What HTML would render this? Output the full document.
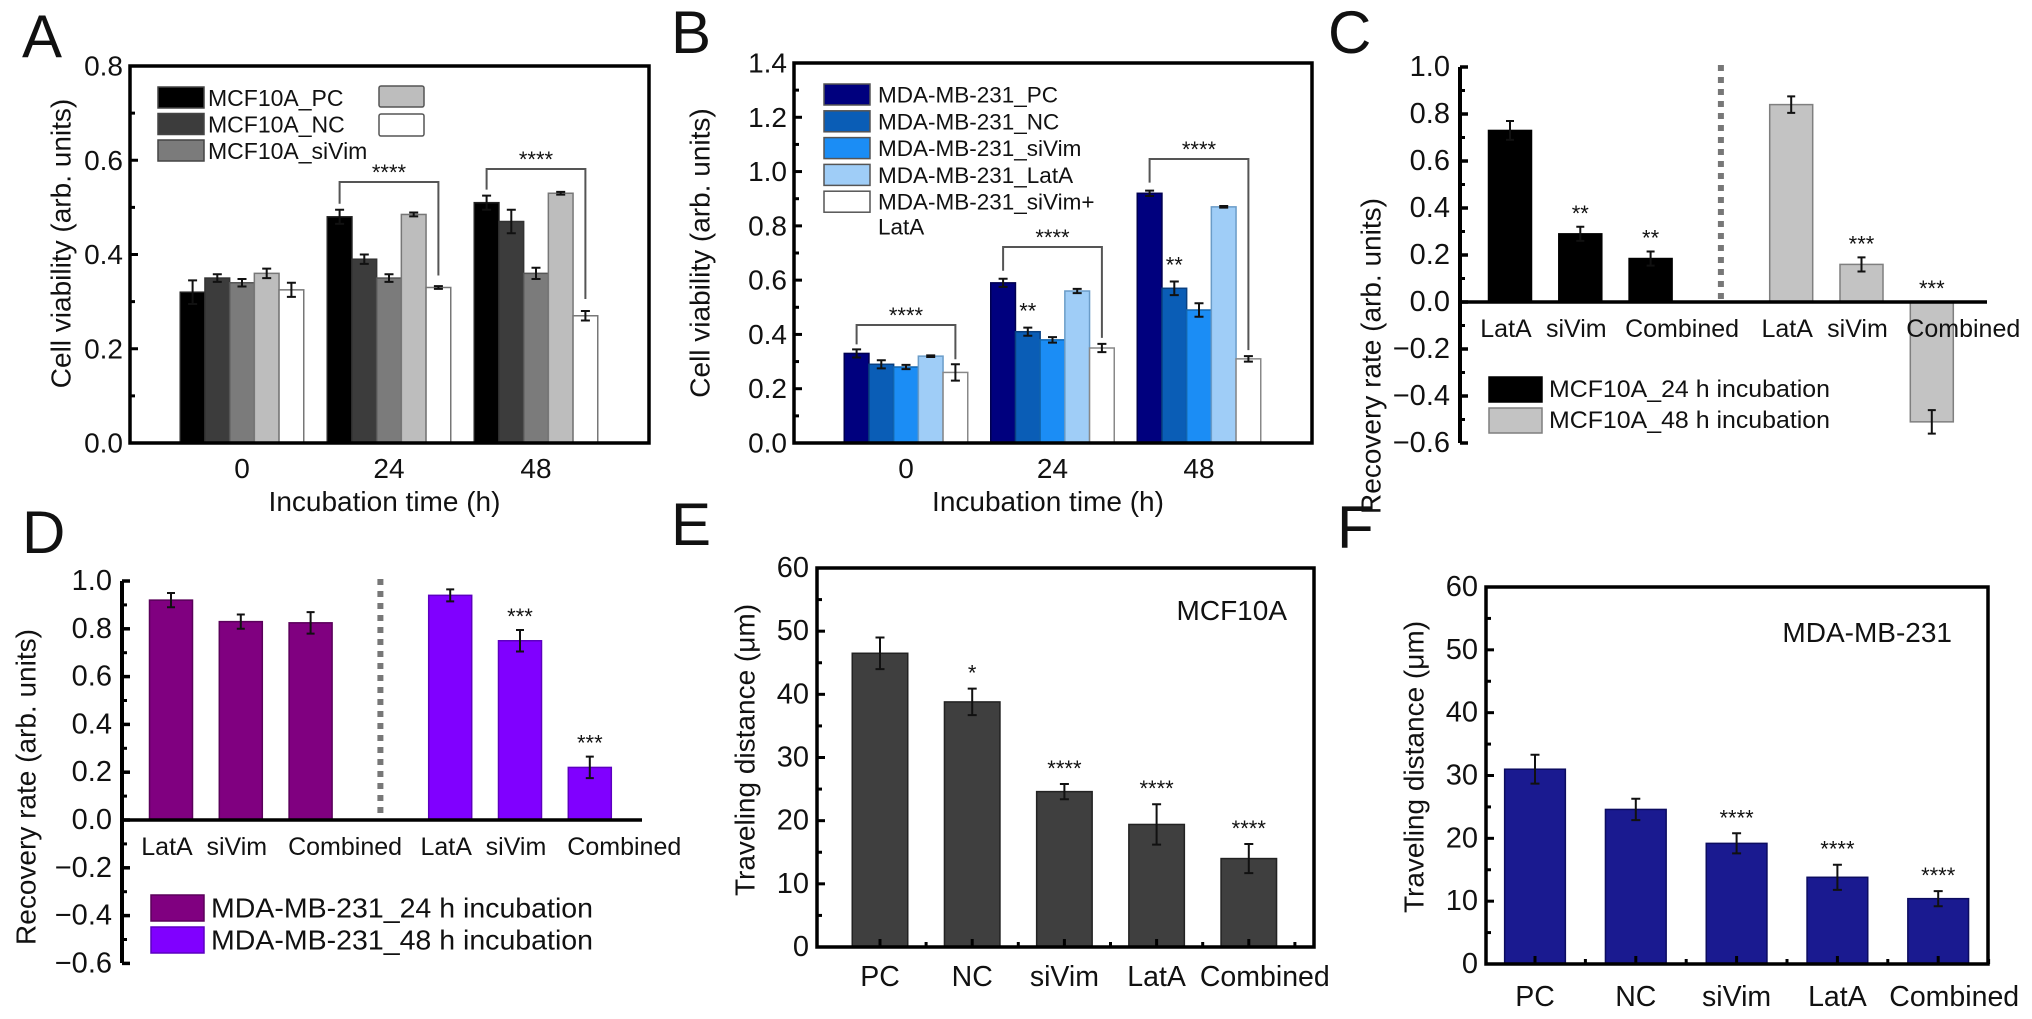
<!DOCTYPE html>
<html><head><meta charset="utf-8"><title>Cell viability and migration figure</title>
<style>
html,body{margin:0;padding:0;background:#fff;}
svg{display:block;font-family:"Liberation Sans",Arial,sans-serif;}
</style></head>
<body>
<svg id="fig" width="2032" height="1019" viewBox="0 0 2032 1019" xmlns="http://www.w3.org/2000/svg"></svg>
<script>
// ---------- Panel A data ----------
const aCats = ['0', '24', '48'];
const aPC = [0.32, 0.48, 0.51];
const aNC = [0.35, 0.39, 0.47];
const aSi = [0.34, 0.35, 0.36];
const aLat = [0.36, 0.485, 0.53];
const aComb = [0.325, 0.33, 0.27];
const aPCe = [0.025, 0.015, 0.015];
const aNCe = [0.008, 0.01, 0.025];
const aSie = [0.008, 0.008, 0.012];
const aLate = [0.01, 0.004, 0.003];
const aCombe = [0.015, 0.003, 0.01];
const aTicks = [0, 0.2, 0.4, 0.6, 0.8];
const aLegend = ['MCF10A_PC', 'MCF10A_NC', 'MCF10A_siVim'];
// ---------- Panel B data ----------
const bCats = ['0', '24', '48'];
const bPC = [0.33, 0.59, 0.92];
const bNC = [0.29, 0.41, 0.57];
const bSi = [0.28, 0.38, 0.49];
const bLat = [0.32, 0.56, 0.87];
const bComb = [0.26, 0.35, 0.31];
const bPCe = [0.015, 0.015, 0.01];
const bNCe = [0.015, 0.015, 0.025];
const bSie = [0.008, 0.01, 0.025];
const bLate = [0.003, 0.008, 0.003];
const bCombe = [0.03, 0.015, 0.01];
const bTicks = [0, 0.2, 0.4, 0.6, 0.8, 1.0, 1.2, 1.4];
const bLegend = ['MDA-MB-231_PC', 'MDA-MB-231_NC', 'MDA-MB-231_siVim', 'MDA-MB-231_LatA', 'MDA-MB-231_siVim+'];
// ---------- Panel C data ----------
const cCats = ['LatA', 'siVim', 'Combined'];
const c24 = [0.73, 0.29, 0.185];
const c48 = [0.84, 0.16, -0.51];
const c24e = [0.04, 0.03, 0.03];
const c48e = [0.035, 0.03, 0.05];
const c24Stars = ['', '**', '**'];
const c48Stars = ['', '***', '***'];
const cTicks = [-0.6, -0.4, -0.2, 0, 0.2, 0.4, 0.6, 0.8, 1.0];
// ---------- Panel D data ----------
const dCats = ['LatA', 'siVim', 'Combined'];
const d24 = [0.92, 0.83, 0.825];
const d48 = [0.94, 0.75, 0.22];
const d24e = [0.03, 0.03, 0.045];
const d48e = [0.025, 0.045, 0.045];
const d24Stars = ['', '', ''];
const d48Stars = ['', '***', '***'];
const dTicks = [-0.6, -0.4, -0.2, 0, 0.2, 0.4, 0.6, 0.8, 1.0];
// ---------- Panel E data ----------
const eCats = ['PC', 'NC', 'siVim', 'LatA', 'Combined'];
const eVals = [46.5, 38.8, 24.6, 19.4, 14.0];
const eErrs = [2.5, 2.1, 1.2, 3.2, 2.3];
const eStars = ['', '*', '****', '****', '****'];
const eTicks = [0, 10, 20, 30, 40, 50, 60];
// ---------- Panel F data ----------
const fCats = ['PC', 'NC', 'siVim', 'LatA', 'Combined'];
const fVals = [31.0, 24.6, 19.2, 13.8, 10.4];
const fErrs = [2.3, 1.7, 1.6, 2.0, 1.2];
const fStars = ['', '', '****', '****', '****'];
const fTicks = [0, 10, 20, 30, 40, 50, 60];

const NS = 'http://www.w3.org/2000/svg';
const svg = document.getElementById('fig');
function el(tag, attrs, parent) {
  const e = document.createElementNS(NS, tag);
  for (const k in attrs) e.setAttribute(k, attrs[k]);
  (parent || svg).appendChild(e);
  return e;
}
function nm(e, n) {
  
  
  return e;
}
function txt(x, y, s, size, anchor, parent, extra) {
  const a = Object.assign({x: x, y: y, 'font-size': size, 'text-anchor': anchor || 'middle', fill: '#111'}, extra || {});
  const t = el('text', a, parent);
  t.textContent = s;
  return t;
}
function lin(v0, p0, v1, p1) { return v => p0 + (v - v0) * (p1 - p0) / (v1 - v0); }
function grp(name) { const g = el('g', {}); nm(g, name); return g; }
function errBar(g, x, y1, y2, cap) {
  const l = el('path', {d: `M${x},${y1}V${y2}M${x - cap / 2},${y1}h${cap}M${x - cap / 2},${y2}h${cap}`, stroke: '#111', 'stroke-width': 2, fill: 'none'}, g);
  nm(l, 'error-bar');
}
function fmt(v) { const s = Math.abs(v).toFixed(1); return v < 0 ? '\u2212' + s : s; }
function yTitle(x, y, s, size, g) {
  const t = txt(x, y, s, size, 'middle', g, {transform: `rotate(-90 ${x} ${y})`, 'dominant-baseline': 'central'});
  nm(t, 'y-axis-title');
}
function letter(x, y, s) { const t = txt(x, y, s, 60, 'start', svg); nm(t, 'panel-label-' + s.toLowerCase()); }

// ===== Grouped bar panel helper =====
function groupedPanel(o) {
  const g = grp(o.name);
  const y = lin(0, o.bottom, o.ymax, o.top);
  const gx = i => o.c0 + i * o.step;
  const n = o.series.length;
  // bars
  o.series.forEach((ser, s) => {
    ser.forEach((v, i) => {
      const x = gx(i) + (s - (n - 1) / 2) * o.bw - o.bw / 2;
      const r = el('rect', {x: x, y: y(v), width: o.bw, height: y(0) - y(v), fill: o.colors[s], stroke: o.strokes[s], 'stroke-width': 1.5}, g);
      nm(r, 'bar-' + o.keys[s] + '-' + o.cats[i] + 'h');
      errBar(g, x + o.bw / 2, y(v + o.errs[s][i]), y(v - o.errs[s][i]), 9);
    });
  });
  // box
  const b = el('rect', {x: o.left, y: o.top, width: o.right - o.left, height: o.bottom - o.top, fill: 'none', stroke: '#000', 'stroke-width': 3.5}, g);
  nm(b, 'plot-frame');
  // y ticks
  o.ticks.forEach(v => {
    const t = txt(o.left - 7, y(v), v.toFixed(1), 28, 'end', g, {'dominant-baseline': 'central'});
    nm(t, 'y-tick-label');
    const tk = el('line', {x1: o.left, x2: o.left + 8, y1: y(v), y2: y(v), stroke: '#000', 'stroke-width': 3}, g);
    nm(tk, 'y-tick');
    if (v < o.ymax - 0.01) {
      const m = el('line', {x1: o.left, x2: o.left + 5, y1: y(v + 0.1), y2: y(v + 0.1), stroke: '#000', 'stroke-width': 3}, g);
      nm(m, 'y-minor-tick');
    }
  });
  o.cats.forEach((c, i) => {
    const t = txt(gx(i), o.bottom + 35, c, 28, 'middle', g);
    nm(t, 'x-tick-label');
  });
  const xt = txt((o.left + o.right) / 2 - 5, o.bottom + 68, 'Incubation time (h)', 28, 'middle', g);
  nm(xt, 'x-axis-title');
  yTitle(o.ytx, (o.top + o.bottom) / 2 + o.ytdy, 'Cell viability (arb. units)', 28, g);
  return {g: g, y: y, gx: gx};
}
function bracket(g, x1, y1, yh, x2, y2, stars, sy) {
  const p = el('path', {d: `M${x1},${y1}V${yh}H${x2}V${y2}`, stroke: '#555', 'stroke-width': 2, fill: 'none'}, g);
  nm(p, 'significance-bracket');
  const t = txt((x1 + x2) / 2, sy, stars, 22, 'middle', g);
  nm(t, 'significance-stars');
}

// ===== Panel A =====
letter(22, 57, 'A');
const A = groupedPanel({name: 'panel-a', left: 130, right: 649, top: 66, bottom: 443, ymax: 0.8, c0: 242, step: 147, bw: 24.7,
  cats: aCats, series: [aPC, aNC, aSi, aLat, aComb], errs: [aPCe, aNCe, aSie, aLate, aCombe],
  colors: ['#000', '#3c3c3c', '#7b7b7b', '#bdbdbd', '#fff'], strokes: ['#222', '#333', '#555', '#777', '#777'],
  keys: ['pc', 'nc', 'sivim', 'lata', 'combined'], ticks: aTicks, ytx: 61, ytdy: -11});
(function () {
  const g = A.g;
  const cols = ['#000', '#3c3c3c', '#7b7b7b'];
  aLegend.forEach((s, i) => {
    const r = el('rect', {x: 158, y: 87 + i * 26.5, width: 46, height: 21, fill: cols[i], stroke: '#444', 'stroke-width': 1.5}, g);
    nm(r, 'legend-swatch');
    const t = txt(208, 98 + i * 26.5, s, 23, 'start', g, {'dominant-baseline': 'central'});
    nm(t, 'legend-entry');
  });
  const r1 = el('rect', {x: 379, y: 86, width: 45, height: 21, fill: '#bdbdbd', stroke: '#555', 'stroke-width': 1.5, rx: 2}, g);
  nm(r1, 'legend-swatch-lata');
  const r2 = el('rect', {x: 379, y: 114, width: 45, height: 22, fill: '#fff', stroke: '#555', 'stroke-width': 1.5, rx: 2}, g);
  nm(r2, 'legend-swatch-combined');
  const bw = 24.7;
  const xs = (gi, s) => A.gx(gi) + (s - 2) * bw;
  bracket(g, xs(1, 0), A.y(aPC[1] + aPCe[1]) - 6, 182, xs(1, 4), A.y(aComb[1]) - 12, '****', 180);
  bracket(g, xs(2, 0), A.y(aPC[2] + aPCe[2]) - 6, 169, xs(2, 4), A.y(aComb[2] + aCombe[2]) - 12, '****', 167);
})();

// ===== Panel B =====
letter(671, 53, 'B');
const B = groupedPanel({name: 'panel-b', left: 794, right: 1312, top: 63, bottom: 443, ymax: 1.4, c0: 906, step: 146.5, bw: 24.7,
  cats: bCats, series: [bPC, bNC, bSi, bLat, bComb], errs: [bPCe, bNCe, bSie, bLate, bCombe],
  colors: ['#00007e', '#0a5db6', '#1b8df5', '#9fcdf7', '#fff'], strokes: ['#000050', '#083f80', '#1266b0', '#6a9cc8', '#888'],
  keys: ['pc', 'nc', 'sivim', 'lata', 'combined'], ticks: bTicks, ytx: 700, ytdy: 0});
(function () {
  const g = B.g;
  const cols = ['#00007e', '#0a5db6', '#1b8df5', '#9fcdf7', '#fff'];
  bLegend.forEach((s, i) => {
    const r = el('rect', {x: 824, y: 84 + i * 26.8, width: 46, height: 21, fill: cols[i], stroke: '#555', 'stroke-width': 1.5}, g);
    nm(r, 'legend-swatch');
    const t = txt(878, 95 + i * 26.8, s, 22.5, 'start', g, {'dominant-baseline': 'central'});
    nm(t, 'legend-entry');
  });
  const t2 = txt(878, 227, 'LatA', 22.5, 'start', g, {'dominant-baseline': 'central'});
  nm(t2, 'legend-entry-continued');
  const bw = 24.7;
  const xs = (gi, s) => B.gx(gi) + (s - 2) * bw;
  bracket(g, xs(0, 0) - 0, B.y(bPC[0] + bPCe[0]) - 5, 325, xs(0, 4) - 0, B.y(bComb[0] + bCombe[0]) - 5, '****', 323);
  bracket(g, xs(1, 0), B.y(bPC[1] + bPCe[1]) - 8, 247, xs(1, 4), B.y(bComb[1] + bCombe[1]) - 6, '****', 245);
  bracket(g, xs(2, 0), B.y(bPC[2] + bPCe[2]) - 8, 159, xs(2, 4), B.y(bComb[2] + bCombe[2]) - 6, '****', 157);
  const s1 = txt(xs(1, 1), B.y(bNC[1] + bNCe[1]) - 9, '**', 22, 'middle', g);
  nm(s1, 'significance-stars');
  const s2 = txt(xs(2, 1), B.y(bNC[2] + bNCe[2]) - 9, '**', 22, 'middle', g);
  nm(s2, 'significance-stars');
})();

// ===== Recovery rate panel helper (C, D) =====
function recoveryPanel(o) {
  const g = grp(o.name);
  const y = lin(0, o.zero, 1.0, o.top);
  const sx = k => o.x0 + k * o.slot;
  // bars
  [[o.s24, o.e24, o.st24, 0, o.c24, o.k24], [o.s48, o.e48, o.st48, 4, o.c48, o.k48]].forEach(([vals, errs, stars, off, col, key]) => {
    vals.forEach((v, i) => {
      const cx = sx(off + i);
      const top = Math.min(y(v), y(0)), h = Math.abs(y(v) - y(0));
      const r = el('rect', {x: cx - o.bw / 2, y: top, width: o.bw, height: h, fill: col[0], stroke: col[1], 'stroke-width': 1.5}, g);
      nm(r, 'bar-' + key + '-' + o.cats[i].toLowerCase());
      errBar(g, cx, y(v + errs[i]), y(v - errs[i]), 8);
      if (stars[i]) {
        const sy = v >= 0 ? y(v + errs[i]) - 6 : y(0) - 6;
        const t = txt(cx, sy, stars[i], 22, 'middle', g);
        nm(t, 'significance-stars');
      }
      const lab = o.cats[i] === 'Combined'
        ? txt(cx - o.bw / 2 - 4 + o.combDx, o.zero + 27, o.cats[i], o.lf, 'start', g, {'dominant-baseline': 'central'})
        : txt(cx - 4, o.zero + 27, o.cats[i], o.lf, 'middle', g, {'dominant-baseline': 'central'});
      nm(lab, 'x-category-label');
    });
  });
  // dotted divider
  const d = el('line', {x1: sx(3), x2: sx(3), y1: o.top - 2, y2: o.zero, stroke: '#777', 'stroke-width': 6, 'stroke-dasharray': '6 6'}, g);
  nm(d, 'divider-dotted-line');
  // axes
  const ya = el('line', {x1: o.ax, x2: o.ax, y1: o.top, y2: o.bottom, stroke: '#000', 'stroke-width': 4}, g);
  nm(ya, 'y-axis-line');
  const za = el('line', {x1: o.ax, x2: o.axEnd, y1: o.zero, y2: o.zero, stroke: '#000', 'stroke-width': 3.5}, g);
  nm(za, 'zero-line');
  o.ticks.forEach(v => {
    const t = txt(o.ax - 10, y(v), fmt(v), 29, 'end', g, {'dominant-baseline': 'central'});
    nm(t, 'y-tick-label');
    const tk = el('line', {x1: o.ax, x2: o.ax + 8, y1: y(v), y2: y(v), stroke: '#000', 'stroke-width': 3.5}, g);
    nm(tk, 'y-tick');
    if (v < 0.95) {
      const m = el('line', {x1: o.ax, x2: o.ax + 5, y1: y(v + 0.1), y2: y(v + 0.1), stroke: '#000', 'stroke-width': 3}, g);
      nm(m, 'y-minor-tick');
    }
  });
  // legend
  [[o.c24, o.l24], [o.c48, o.l48]].forEach(([col, s], i) => {
    const r = el('rect', {x: o.lx, y: o.ly + i * o.lstep, width: 53, height: o.lh, fill: col[0], stroke: col[1], 'stroke-width': 1.5}, g);
    nm(r, 'legend-swatch');
    const t = txt(o.lx + 60, o.ly + i * o.lstep + o.lh / 2, s, o.lfs, 'start', g, {'dominant-baseline': 'central', textLength: o.ltl, lengthAdjust: 'spacingAndGlyphs'});
    nm(t, 'legend-entry');
  });
  yTitle(o.ytx, o.yty, 'Recovery rate (arb. units)', 28, g);
}
letter(1328, 53, 'C');
recoveryPanel({name: 'panel-c', top: 67, zero: 302, bottom: 443, x0: 1510, slot: 70.3, bw: 43, ax: 1460, axEnd: 1987,
  cats: cCats, s24: c24, s48: c48, e24: c24e, e48: c48e, st24: c24Stars, st48: c48Stars,
  c24: ['#000', '#000'], c48: ['#c3c3c3', '#7f7f7f'], k24: '24h', k48: '48h', ticks: cTicks, lf: 25, combDx: 0,
  lx: 1489, ly: 377, lstep: 31, lh: 25, lfs: 24, ltl: 281,
  l24: 'MCF10A_24 h incubation', l48: 'MCF10A_48 h incubation', ytx: 1371, yty: 356});
letter(22, 553, 'D');
recoveryPanel({name: 'panel-d', top: 581, zero: 820, bottom: 963, x0: 171, slot: 69.8, bw: 43, ax: 122, axEnd: 642,
  cats: dCats, s24: d24, s48: d48, e24: d24e, e48: d48e, st24: d24Stars, st48: d48Stars,
  c24: ['#800080', '#5a005a'], c48: ['#8000ff', '#5c00c0'], k24: '24h', k48: '48h', ticks: dTicks, lf: 25, combDx: 3,
  lx: 151, ly: 895, lstep: 32, lh: 26, lfs: 28, ltl: 382,
  l24: 'MDA-MB-231_24 h incubation', l48: 'MDA-MB-231_48 h incubation', ytx: 26, yty: 787});

// ===== Distance panel helper (E, F) =====
function distPanel(o) {
  const g = grp(o.name);
  const y = lin(0, o.bottom, 60, o.top);
  const bx = i => o.x0 + i * o.step;
  o.vals.forEach((v, i) => {
    const r = el('rect', {x: bx(i) - o.bw / 2, y: y(v), width: o.bw, height: y(0) - y(v), fill: o.color, stroke: o.stroke, 'stroke-width': 1.5}, g);
    nm(r, 'bar-' + o.cats[i].toLowerCase());
    errBar(g, bx(i), y(v + o.errs[i]), y(v - o.errs[i]), 9);
    if (o.stars[i]) {
      const t = txt(bx(i), y(v + o.errs[i]) - 8, o.stars[i], 22, 'middle', g);
      nm(t, 'significance-stars');
    }
    const lab = txt(bx(i) + (o.cats[i] === 'Combined' ? 16 : 0), o.bottom + o.labDy, o.cats[i], 28.5, 'middle', g, {'dominant-baseline': 'central'});
    nm(lab, 'x-tick-label');
    const tk = el('line', {x1: bx(i), x2: bx(i), y1: o.bottom, y2: o.bottom - 8, stroke: '#000', 'stroke-width': 3}, g);
    nm(tk, 'x-tick');
    const mt = el('line', {x1: bx(i) + o.step / 2, x2: bx(i) + o.step / 2, y1: o.bottom, y2: o.bottom - 5, stroke: '#000', 'stroke-width': 3}, g);
    nm(mt, 'x-minor-tick');
  });
  const b = el('rect', {x: o.left, y: o.top, width: o.right - o.left, height: o.bottom - o.top, fill: 'none', stroke: '#000', 'stroke-width': 3.5}, g);
  nm(b, 'plot-frame');
  o.ticks.forEach(v => {
    const t = txt(o.left - 8, y(v), String(v), 29, 'end', g, {'dominant-baseline': 'central'});
    nm(t, 'y-tick-label');
    const tk = el('line', {x1: o.left, x2: o.left + 8, y1: y(v), y2: y(v), stroke: '#000', 'stroke-width': 3}, g);
    nm(tk, 'y-tick');
    if (v < 60) {
      const m = el('line', {x1: o.left, x2: o.left + 5, y1: y(v + 5), y2: y(v + 5), stroke: '#000', 'stroke-width': 3}, g);
      nm(m, 'y-minor-tick');
    }
  });
  const c = txt(o.cellX, o.cellY, o.cell, 28, 'end', g);
  nm(c, 'cell-line-label');
  yTitle(o.ytx, o.yty, 'Traveling distance (\u03bcm)', 28, g);
}
letter(671, 545, 'E');
distPanel({name: 'panel-e', left: 817, right: 1314, top: 568, bottom: 947, x0: 880, step: 92.2, bw: 55.5,
  cats: eCats, vals: eVals, errs: eErrs, stars: eStars, ticks: eTicks, color: '#3f3f3f', stroke: '#222',
  cell: 'MCF10A', cellX: 1287, cellY: 620, ytx: 745, yty: 750, labDy: 30});
letter(1337, 548, 'F');
distPanel({name: 'panel-f', left: 1486, right: 1988, top: 587, bottom: 964, x0: 1535, step: 100.8, bw: 60.7,
  cats: fCats, vals: fVals, errs: fErrs, stars: fStars, ticks: fTicks, color: '#1a1a90', stroke: '#0c0c60',
  cell: 'MDA-MB-231', cellX: 1952, cellY: 642, ytx: 1414, yty: 767, labDy: 33});
</script>
</body></html>
